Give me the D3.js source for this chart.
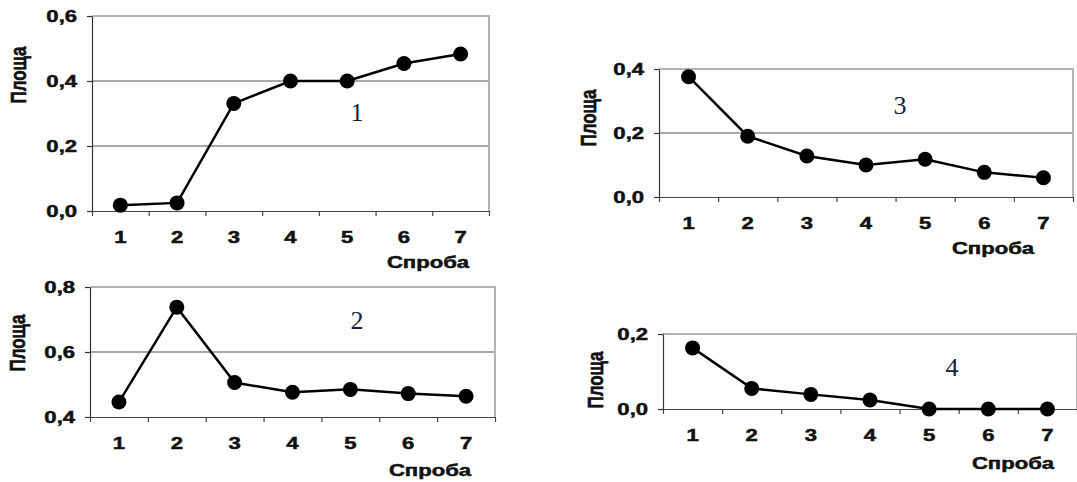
<!DOCTYPE html>
<html>
<head>
<meta charset="utf-8">
<script src="https://cdn.jsdelivr.net/npm/d3@7"></script>
<style>
  body { margin: 0; background: #fff; }
  svg { display: block; }
</style>
</head>
<body>
<svg id="chart" width="1077" height="482"></svg>
<script>
// data
const trials = [1, 2, 3, 4, 5, 6, 7];
const area1 = [0.018, 0.025, 0.331, 0.40, 0.40, 0.454, 0.483];
const area2 = [0.446, 0.738, 0.506, 0.476, 0.485, 0.472, 0.464];
const area3 = [0.376, 0.19, 0.128, 0.10, 0.118, 0.077, 0.06];
const area4 = [0.163, 0.055, 0.039, 0.024, 0, 0, 0];

const ticks1 = [0, 0.2, 0.4, 0.6];
const ticks2 = [0.4, 0.6, 0.8];
const ticks3 = [0, 0.2, 0.4];
const ticks4 = [0, 0.2];

const yTitle = "Площа";
const xTitle = "Спроба";

// layout of the four panels
const panels = [
  { values: area1, ticks: ticks1, name: "1", left: 92, right: 489, top: 16, bottom: 211,
    nameAt: [357, 112], yTitleAt: [18, 75], xTitleAt: [428, 262] },
  { values: area2, ticks: ticks2, name: "2", left: 90, right: 495, top: 287, bottom: 417,
    nameAt: [357, 320], yTitleAt: [17, 343], xTitleAt: [430, 470] },
  { values: area3, ticks: ticks3, name: "3", left: 659, right: 1073, top: 69, bottom: 197,
    nameAt: [900, 105], yTitleAt: [588, 118], xTitleAt: [993, 248] },
  { values: area4, ticks: ticks4, name: "4", left: 663, right: 1077, top: 334, bottom: 409,
    nameAt: [952, 367], yTitleAt: [595, 380], xTitleAt: [1013, 463] }
];

const stretch = 1.3;      // the picture's text is wider than plain Arial
const fontBold = "'Liberation Sans', Arial, sans-serif";
const fmt = d => d3.format(".1f")(d).replace(".", ",");

const svg = d3.select("#chart");

// heavy bold text like the scanned figure
function boldText(sel) {
  sel.attr("font-family", fontBold)
    .attr("font-weight", "bold")
    .attr("font-size", 17)
    .attr("fill", "#111")
    .attr("stroke", "#111")
    .attr("stroke-width", 0.5);
}

panels.forEach(p => {
  const g = svg.append("g");

  const x = d3.scaleBand().domain(trials).range([p.left, p.right]).padding(0);
  const xEdge = d3.scaleLinear().domain([0, trials.length]).range([p.left, p.right]);
  const y = d3.scaleLinear().domain(d3.extent(p.ticks)).range([p.bottom, p.top]);

  // grid lines
  g.selectAll(".grid")
    .data(p.ticks.slice(1))
    .join("line")
      .attr("x1", p.left).attr("x2", p.right)
      .attr("y1", d => y(d)).attr("y2", d => y(d))
      .attr("stroke", "#8c8c8c")
      .attr("stroke-width", 1.5);

  // frame top/right
  g.append("path")
    .attr("d", `M${p.left},${p.top}H${p.right}V${p.bottom}`)
    .attr("fill", "none")
    .attr("stroke", "#b4b4b4")
    .attr("stroke-width", 2);

  // x tick marks at category boundaries
  const xTicks = g.append("g")
    .attr("transform", `translate(0,${p.bottom})`)
    .call(d3.axisBottom(xEdge).tickValues(d3.range(0, trials.length + 1)).tickSize(5).tickSizeOuter(0).tickFormat(""));
  xTicks.selectAll("path, line").attr("stroke", "#444").attr("stroke-width", 1.2);

  // x labels
  const xLab = g.append("g")
    .attr("transform", `translate(0,${p.bottom})`)
    .call(d3.axisBottom(x).tickSize(0).tickPadding(20));
  xLab.select(".domain").remove();
  xLab.selectAll("text")
    .attr("transform", `scale(${stretch},1)`)
    .call(boldText);

  // y axis
  const yAx = g.append("g")
    .attr("transform", `translate(${p.left},0)`)
    .call(d3.axisLeft(y).tickValues(p.ticks).tickSize(5).tickSizeOuter(0).tickPadding(6.5).tickFormat(fmt));
  yAx.selectAll("path, line").attr("stroke", "#333").attr("stroke-width", 1.2);
  yAx.selectAll("text")
    .attr("transform", `scale(${stretch},1)`)
    .call(boldText);

  // line and markers
  const pts = trials.map((t, i) => [t, p.values[i]]);
  const line = d3.line()
    .x(d => x(d[0]) + x.bandwidth() / 2)
    .y(d => y(d[1]));

  g.append("path")
    .datum(pts)
    .attr("d", line)
    .attr("fill", "none")
    .attr("stroke", "#000")
    .attr("stroke-width", 2.5);

  g.selectAll(".pt")
    .data(pts)
    .join("circle")
      .attr("cx", d => x(d[0]) + x.bandwidth() / 2)
      .attr("cy", d => y(d[1]))
      .attr("r", 7.5)
      .attr("fill", "#000");

  // titles
  g.append("text")
    .attr("transform", `translate(${p.yTitleAt[0]},${p.yTitleAt[1]}) scale(${stretch},1) rotate(-90)`)
    .attr("text-anchor", "middle")
    .attr("dy", "0.35em")
    .call(boldText)
    .text(yTitle);

  g.append("text")
    .attr("transform", `translate(${p.xTitleAt[0]},${p.xTitleAt[1]}) scale(${stretch},1)`)
    .attr("text-anchor", "middle")
    .attr("dy", "0.35em")
    .call(boldText)
    .text(xTitle);

  g.append("text")
    .attr("x", p.nameAt[0])
    .attr("y", p.nameAt[1])
    .attr("text-anchor", "middle")
    .attr("dy", "0.35em")
    .attr("font-family", "'Liberation Serif', 'Times New Roman', serif")
    .attr("font-size", 26)
    .attr("fill", "#1a2035")
    .text(p.name);
});
</script>
</body>
</html>
